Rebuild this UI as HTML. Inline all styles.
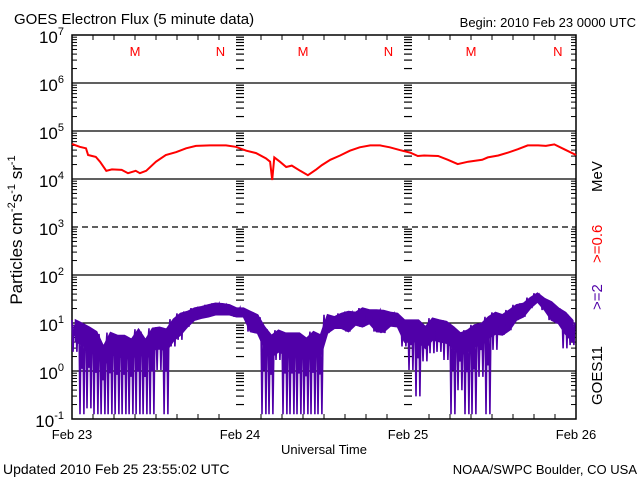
<!DOCTYPE html>
<html><head><meta charset="utf-8"><style>
body{margin:0;background:#fff;}
svg{display:block;font-family:"Liberation Sans",sans-serif;}
</style></head><body>
<svg id="chart" width="640" height="480" viewBox="0 0 640 480">
<rect x="0" y="0" width="640" height="480" fill="#fff"/>
<text x="14" y="24" font-size="15">GOES Electron Flux (5 minute data)</text>
<text x="636" y="27" font-size="13" text-anchor="end">Begin: 2010 Feb 23 0000 UTC</text>
<text x="324" y="454" font-size="13" text-anchor="middle">Universal Time</text>
<text x="3" y="474" font-size="14">Updated 2010 Feb 25 23:55:02 UTC</text>
<text x="637" y="474" font-size="13" text-anchor="end">NOAA/SWPC Boulder, CO USA</text>
<text transform="translate(22,230) rotate(-90)" font-size="17" text-anchor="middle">Particles cm<tspan dy="-7" font-size="11">-2</tspan><tspan dy="7">s</tspan><tspan dy="-7" font-size="11">-1</tspan><tspan dy="7"> sr</tspan><tspan dy="-7" font-size="11">-1</tspan></text>
<g transform="translate(602,0) rotate(-90)" font-size="15">
<text x="-405">GOES11</text>
<text x="-310" fill="#5000a8">&gt;=2</text>
<text x="-263" fill="#ff0000">&gt;=0.6</text>
<text x="-192">MeV</text>
</g>
<g id="axes"></g>
<g id="marks"></g>
</svg>
<script>
// Data
const dayLabels = ["Feb 23","Feb 24","Feb 25","Feb 26"];
const yExponents = [7,6,5,4,3,2,1,0,-1];
const mnLabels = ["M","N","M","N","M","N"];
const mnHours = [9,21.2,33,45.2,57,69.4];
// >=0.6 MeV (red): hours and log10 flux
const redHours = [0,1.1,2,2.3,3.4,4,4.9,5.7,7.1,8,9.1,9.7,10.6,12,13.4,14.9,16.3,17.7,19.7,22,23.4,24.9,26.3,27.7,28.3,28.6,28.9,29.7,30.6,31.4,32.6,33.7,34.9,35.7,36.9,38.3,39.7,41.1,42.6,44,45.4,46.9,48.3,49.4,50.3,52.3,53.7,55.1,56.6,58.6,59.4,60.9,62.3,63.7,65.1,66.6,67.7,68.9,70.3,72];
const redLog = [4.73,4.67,4.64,4.5,4.46,4.36,4.17,4.2,4.19,4.12,4.17,4.12,4.17,4.36,4.5,4.56,4.64,4.69,4.7,4.7,4.67,4.59,4.54,4.43,4.36,3.98,4.45,4.36,4.25,4.28,4.17,4.08,4.2,4.29,4.4,4.49,4.59,4.66,4.7,4.7,4.66,4.6,4.55,4.48,4.49,4.48,4.4,4.31,4.36,4.4,4.45,4.49,4.55,4.62,4.7,4.7,4.69,4.72,4.62,4.5];
// >=2 MeV (purple): hourly max/min log10 flux
const purpleHi = [1.06,0.99,0.91,0.82,0.51,0.8,0.74,0.74,0.66,0.87,0.65,0.89,0.91,0.87,1.08,1.2,1.24,1.31,1.34,1.38,1.41,1.4,1.38,1.31,
1.31,1.24,1.17,0.92,0.74,0.85,0.79,0.79,0.79,0.68,0.82,0.75,1.17,1.13,1.2,1.24,1.22,1.31,1.27,1.27,1.26,1.22,1.2,1.06,
1.06,1.06,0.92,1.1,1.06,1.03,0.92,0.79,0.85,0.96,0.99,1.13,1.22,1.17,1.27,1.38,1.41,1.53,1.62,1.51,1.44,1.31,1.22,1.06];
const purpleLo = [0.4,-0.9,-0.78,-0.9,-0.9,-0.9,-0.9,-0.9,-0.9,-0.9,-0.9,-0.9,0.02,-0.9,0.51,0.65,0.92,1.06,1.1,1.13,1.17,1.17,1.17,1.13,
1.13,0.82,0.79,-0.9,-0.9,0.23,-0.9,-0.9,-0.9,-0.9,-0.9,-0.9,0.79,0.89,0.89,0.82,0.96,0.92,0.99,0.82,0.79,0.94,0.92,0.51,
0.02,-0.53,0.2,0.37,0.4,0.23,-0.9,-0.4,-0.9,-0.9,-0.12,-0.9,0.44,0.75,0.85,1.06,1.13,1.31,1.44,1.27,1.06,0.99,0.47,0.54];

const NS="http://www.w3.org/2000/svg";
const L=72,R=576,T=35,B=419;
const xOf=h=>L+(R-L)*h/72;
const yOf=lg=>T+(7-lg)*(B-T)/8;
const axes=document.getElementById('axes'), marks=document.getElementById('marks');
function mk(tag,attrs,parent){const e=document.createElementNS(NS,tag);for(const k in attrs)e.setAttribute(k,attrs[k]);parent.appendChild(e);return e;}
function line(x1,y1,x2,y2,p,extra){return mk('line',Object.assign({x1,y1,x2,y2,stroke:'#000','stroke-width':1.3},extra||{}),p);}

yExponents.forEach(e=>{
  if(e===7||e===-1) return;
  const g=line(L,yOf(e),R,yOf(e),axes,e===3?{'stroke-dasharray':'6,4'}:{});
  
  
});
yExponents.forEach(e=>{
  const t=mk('text',{x:64,y:yOf(e)+8,'font-size':17,'text-anchor':'end'},axes);
  
  
  t.textContent='10';
  const s=mk('tspan',{dy:-8,'font-size':11},t); s.textContent=String(e);
});
for(let e=-1;e<7;e++){
  for(let m=2;m<=9;m++){
    const y=yOf(e+Math.log10(m));
    line(L,y,L+5,y,axes,{'stroke-width':1});
    line(R-5,y,R,y,axes,{'stroke-width':1});
    [1,2].forEach(d=>{const x=xOf(d*24);line(x-4,y,x+4,y,axes,{'stroke-width':1.2});});
  }
}
for(let h=3;h<72;h+=3){
  if(h%24!==0){line(xOf(h),B,xOf(h),B-5,axes,{'stroke-width':1});line(xOf(h),T,xOf(h),T+5,axes,{'stroke-width':1});}
}
dayLabels.forEach((d,i)=>{
  const t=mk('text',{x:xOf(i*24),y:439,'font-size':13,'text-anchor':'middle'},axes);
  
  
  t.textContent=d;
});
mnLabels.forEach((m,i)=>{
  const t=mk('text',{x:xOf(mnHours[i]),y:56,'font-size':13,'text-anchor':'middle',fill:'#ff0000'},axes);
  
  
  t.textContent=m;
});
const fr=mk('rect',{x:L,y:T,width:R-L,height:B-T,fill:'none',stroke:'#000','stroke-width':1.5},axes);



// purple series: dense band + spikes
const band=[], bandLow=[];
purpleHi.forEach((hi,i)=>{
  const lo=purpleLo[i];
  band.push([i+0.5,hi]);
  bandLow.push([i+0.5,Math.max(lo,hi-0.45)]);
});
const bandPts=band.concat(bandLow.slice().reverse());
const bp=mk('polygon',{points:bandPts.map(p=>xOf(p[0]).toFixed(1)+','+yOf(p[1]).toFixed(1)).join(' '),fill:'#5000a8',stroke:'#5000a8','stroke-width':1.5},marks);


let pts=[];
purpleHi.forEach((hi,i)=>{
  const lo=purpleLo[i];
  const mid=(hi+lo)/2;
  pts.push([i,hi],[i+0.15,lo],[i+0.3,hi-0.1],[i+0.45,mid],[i+0.55,hi],[i+0.7,lo],[i+0.85,hi-0.05]);
});
const pp=mk('polyline',{points:pts.map(p=>xOf(p[0]).toFixed(1)+','+yOf(p[1]).toFixed(1)).join(' '),fill:'none',stroke:'#5000a8','stroke-width':1.6},marks);


const rp=mk('polyline',{points:redHours.map((h,i)=>xOf(h).toFixed(1)+','+yOf(redLog[i]).toFixed(1)).join(' '),fill:'none',stroke:'#ff0000','stroke-width':2},marks);


</script>
</body></html>
